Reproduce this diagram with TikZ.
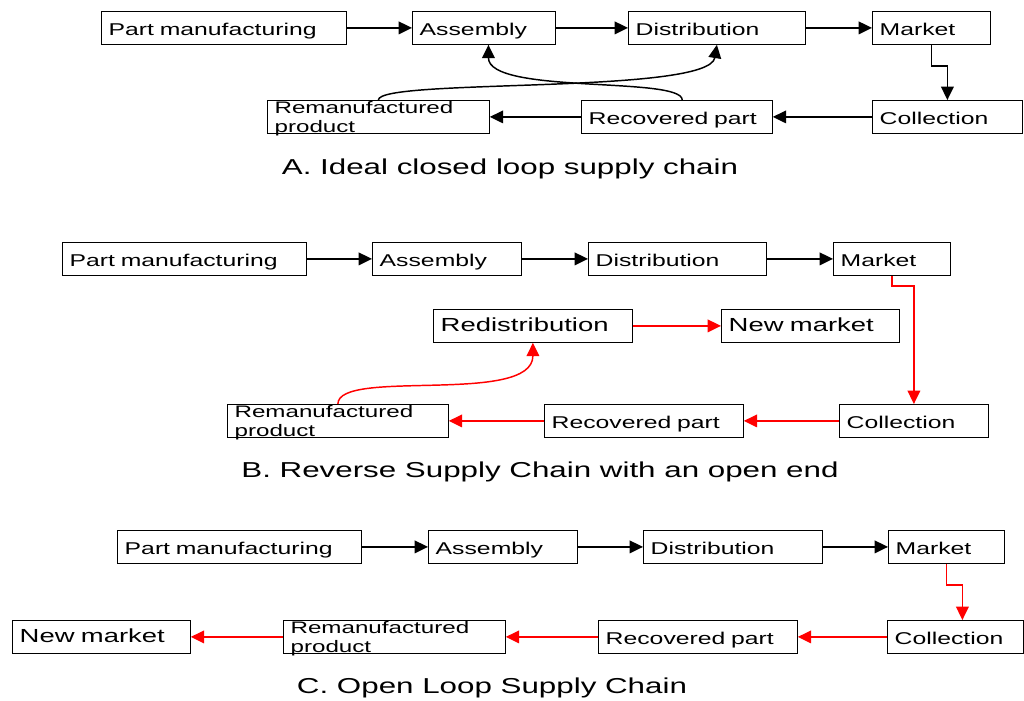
\documentclass[tikz,border=0pt]{standalone}
\usepackage{fontspec}
\setmainfont{Liberation Sans}[FakeStretch=1.45]
\usetikzlibrary{arrows.meta}

\begin{document}
\begin{tikzpicture}[x=0.75pt,y=-0.75pt,
  bx/.style={draw=black, line width=0.6pt, rectangle, anchor=north west,
    minimum height=24.75pt, inner ysep=0pt, inner xsep=5.5pt, align=left,
    text width=#1, font=\fontsize{12.8}{14.25}\selectfont,
    text height=12.5pt, text depth=1.5pt},
  bigbx/.style={bx=#1, font=\fontsize{14.2}{16}\selectfont, text height=10.5pt, text depth=1.8pt},
  rmtxt/.style={inner sep=0pt, anchor=base west, font=\fontsize{12.5}{14.25}\selectfont},
  caption/.style={font=\fontsize{16.2}{18}\selectfont, inner sep=0pt},
  arr/.style={-{Triangle[length=10pt,width=9.5pt]}, line width=1.1pt, draw=black},
  rarr/.style={arr, draw=red},
]
\useasboundingbox (0,0) rectangle (1024,700);

% ---------------- A: ideal closed loop ----------------
\node[bx=173pt] (pmA) at (101,11) {Part manufacturing};
\node[bx=96.25pt] (asA) at (412,11) {Assembly};
\node[bx=121.75pt] (diA) at (628,11) {Distribution};
\node[bx=77.5pt] (mkA) at (872,11) {Market};
\node[bx=101.5pt] (coA) at (872,100) {Collection};
\node[bx=132.25pt] (rpA) at (581,100) {Recovered part};
\node[bx=155.5pt] (rmA) at (267,100) {};
\node[rmtxt] (rmAt) at ([xshift=5.5pt,yshift=-10.1pt]rmA.north west)
  {\parbox[t]{150pt}{\raggedright Remanufactured\\product}};

\draw[arr] (pmA.east) -- (asA.west);
\draw[arr] (asA.east) -- (diA.west);
\draw[arr] (diA.east) -- (mkA.west);
\draw[arr] (mkA.south) -- ++(0,21) -| (coA.north);
\draw[arr] (coA.west) -- (rpA.east);
\draw[arr] (rpA.west) -- (rmA.east);
\draw[arr] ([xshift=4pt]rpA.north) .. controls +(0,-24) and +(0,50) .. ([xshift=3.4pt]asA.south);
\draw[arr] (rmA.north) .. controls +(0,-22) and +(-8,50) .. (diA.south);

\node[caption] (capA) at (510,169) {A. Ideal closed loop supply chain};

% ---------------- B: reverse chain, open end ----------------
\node[bx=172pt] (pmB) at (62,242) {Part manufacturing};
\node[bx=100.75pt] (asB) at (372,242) {Assembly};
\node[bx=122.5pt] (diB) at (588,242) {Distribution};
\node[bx=76.75pt] (mkB) at (833,242) {Market};
\node[bigbx=138.25pt] (rdB) at (433,309) {Redistribution};
\node[bigbx=122.5pt] (nmB) at (721,309) {New market};
\node[bx=154.75pt] (rmB) at (227,404) {};
\node[rmtxt] (rmBt) at ([xshift=5.5pt,yshift=-9.9pt]rmB.north west)
  {\parbox[t]{150pt}{\raggedright Remanufactured\\product}};
\node[bx=138.25pt] (rpB) at (544,404) {Recovered part};
\node[bx=100.75pt] (coB) at (839,404) {Collection};

\draw[arr] (pmB.east) -- (asB.west);
\draw[arr] (asB.east) -- (diB.west);
\draw[arr] (diB.east) -- (mkB.west);
\draw[rarr] (mkB.south) -- ++(0,10) -| (coB.north);
\draw[rarr] (coB.west) -- (rpB.east);
\draw[rarr] (rpB.west) -- (rmB.east);
\draw[rarr] (rmB.north) .. controls +(0,-36) and +(0,63) .. (rdB.south);
\draw[rarr] (rdB.east) -- (nmB.west);

\node[caption] (capB) at (540,472) {B. Reverse Supply Chain with an open end};

% ---------------- C: open loop ----------------
\node[bx=172pt] (pmC) at (117,530) {Part manufacturing};
\node[bx=100.75pt] (asC) at (428,530) {Assembly};
\node[bx=123.25pt] (diC) at (643,530) {Distribution};
\node[bx=76pt] (mkC) at (888,530) {Market};
\node[bx=91pt] (coC) at (887,620) {Collection};
\node[bx=138.25pt] (rpC) at (598,620) {Recovered part};
\node[bx=155.5pt] (rmC) at (283,620) {};
\node[rmtxt] (rmCt) at ([xshift=5.5pt,yshift=-9.9pt]rmC.north west)
  {\parbox[t]{150pt}{\raggedright Remanufactured\\product}};
\node[bigbx=122.5pt] (nmC) at (12,620) {New market};

\draw[arr] (pmC.east) -- (asC.west);
\draw[arr] (asC.east) -- (diC.west);
\draw[arr] (diC.east) -- (mkC.west);
\draw[rarr] (mkC.south) -- ++(0,21) -| ([xshift=5.25pt]coC.north);
\draw[rarr] (coC.west) -- (rpC.east);
\draw[rarr] (rpC.west) -- (rmC.east);
\draw[rarr] (rmC.west) -- (nmC.east);

\node[caption] (capC) at (492,688) {C. Open Loop Supply Chain};
\end{tikzpicture}
\end{document}
